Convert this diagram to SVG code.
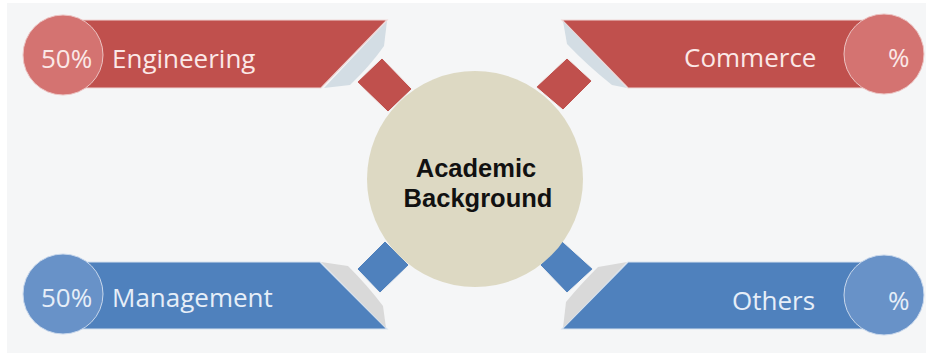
<svg xmlns="http://www.w3.org/2000/svg" width="930" height="356" viewBox="0 0 930 356">
  <style>
    .lbl { font-family: "Open Sans", "Noto Sans", "Liberation Sans", sans-serif; font-size: 26px; }
    .red-band { fill: #c0504d; stroke: #f0d6d5; stroke-width: 1.2; }
    .blue-band { fill: #4f81bd; stroke: #d6e2f0; stroke-width: 1.2; }
    .red-dot { fill: #d47371; stroke: #ecc4c3; stroke-width: 1; }
    .blue-dot { fill: #6892c8; stroke: #c9d8ec; stroke-width: 1; }
    .red-txt { fill: #fbe8e7; }
    .blue-txt { fill: #e6eef8; }
    .fold-r { fill: #d3dde4; }
    .fold-b { fill: #d9d9d9; }
    .dia-r { fill: #c0504d; stroke: #f3f3f3; stroke-width: 1; }
    .dia-b { fill: #4f81bd; stroke: #f3f3f3; stroke-width: 1; }
    .center-txt { font-family: "Liberation Sans", Arial, sans-serif; font-size: 25.5px; font-weight: bold; fill: #111111; text-anchor: middle; }
  </style>
  <rect x="0" y="0" width="930" height="356" fill="#ffffff"/>
  <rect x="7" y="3" width="919" height="350" fill="#f5f6f7"/>

  <g id="connectors">
    <polygon class="dia-r" points="382,58 412,89 388,112 357,82"/>
    <polygon class="dia-r" points="567,58 592,81 563,110 536,87"/>
    <polygon class="dia-b" points="385,241 409,265 380,293 357,269"/>
    <polygon class="dia-b" points="562,241 593,269 567,293 540,265"/>
  </g>

  <g id="center">
    <circle cx="475" cy="179" r="108" fill="#ddd9c3"/>
    <text class="center-txt" x="476" y="177">Academic</text>
    <text class="center-txt" x="478" y="207">Background</text>
  </g>

  <g id="engineering">
    <polygon class="red-band" points="60,20 387,20 321,88 60,88"/>
    <path class="fold-r" d="M387,21 L384,46 Q370,66 350,85 L324,88 Z"/>
    <circle class="red-dot" cx="63" cy="55" r="40"/>
    <text class="lbl red-txt" x="41" y="68">50%</text>
    <text class="lbl red-txt" x="112" y="68">Engineering</text>
  </g>

  <g id="commerce">
    <polygon class="red-band" points="562,20 884,20 884,88 628,88"/>
    <path class="fold-r" d="M563,21 L567,44 Q588,66 612,85 L627,88 Z"/>
    <circle class="red-dot" cx="884" cy="54" r="40"/>
    <text class="lbl red-txt" x="684" y="67">Commerce</text>
    <text class="lbl red-txt" x="888" y="67">%</text>
  </g>

  <g id="management">
    <polygon class="blue-band" points="60,262 320,262 387,329 60,329"/>
    <path class="fold-b" d="M321,262 L348,266 Q368,286 383,306 L386,328 Z"/>
    <circle class="blue-dot" cx="63" cy="294" r="40"/>
    <text class="lbl blue-txt" x="41" y="307">50%</text>
    <text class="lbl blue-txt" x="112" y="307">Management</text>
  </g>

  <g id="others">
    <polygon class="blue-band" points="628,262 884,262 884,329 562,329"/>
    <path class="fold-b" d="M627,262 L598,267 Q580,285 566,302 L563,328 Z"/>
    <circle class="blue-dot" cx="884" cy="295" r="40"/>
    <text class="lbl blue-txt" x="732" y="310">Others</text>
    <text class="lbl blue-txt" x="888" y="310">%</text>
  </g>
</svg>
